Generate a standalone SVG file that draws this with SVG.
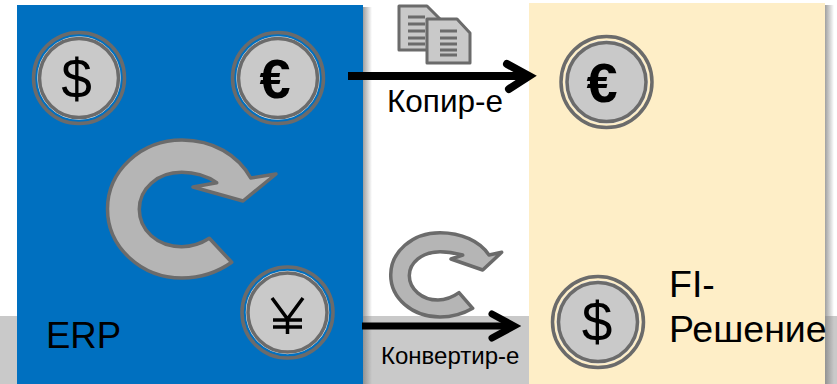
<svg xmlns="http://www.w3.org/2000/svg" width="837" height="384" viewBox="0 0 837 384">
<style>
.o{fill:none;stroke:#6b6b6b;stroke-width:3.500}
.h{fill:none;stroke:#e8e8e8;stroke-width:1.500}
.i{fill:#c9c9c9;stroke:#6b6b6b;stroke-width:3.500}
.a{fill:#b5b5b5;stroke:#6b6b6b;stroke-width:3.500;stroke-linejoin:round}
.s{font-family:"Liberation Sans",Arial,sans-serif;fill:#000}
.l{fill:none;stroke:#000;stroke-linecap:butt}
.c{fill:none;stroke:#000;stroke-linecap:round;stroke-linejoin:miter}
.d{fill:#c9c9c9;stroke:#6b6b6b;stroke-width:3;stroke-linejoin:round}
.dl{stroke:#6b6b6b;stroke-width:3;fill:none}
</style>
<defs>
<linearGradient id="sh"><stop offset="0" stop-color="#808080" stop-opacity=".75"/><stop offset="1" stop-color="#808080" stop-opacity="0"/></linearGradient>
</defs>
<rect width="837" height="384" fill="#fff"/>
<rect id="band" x="0" y="316" width="837" height="68" fill="#c9c9c9"/>
<rect x="363" y="7" width="9" height="377" fill="url(#sh)"/>
<rect x="825" y="5" width="9" height="379" fill="url(#sh)"/>
<g id="erp">
<rect x="17" y="5" width="346" height="379" fill="#0070c0"/>
<text class="s" x="46" y="348" font-size="36.500">ERP</text>
</g>
<g id="fi">
<rect x="529" y="3" width="296" height="381" fill="#feeec7"/>
<text class="s" x="669" y="297" font-size="37.500">FI-</text>
<text class="s" x="669" y="342" font-size="37.500">Решение</text>
</g>
<g id="coin-usd-erp">
<circle cx="79" cy="78" r="45.500" class="o"/><circle cx="79" cy="78" r="41" class="h"/><circle cx="79" cy="78" r="39.500" class="i"/>
<text class="s" x="76.500" y="98" font-size="55" text-anchor="middle">$</text>
</g>
<g id="coin-eur-erp">
<circle cx="278" cy="78" r="45.500" class="o"/><circle cx="278" cy="78" r="41" class="h"/><circle cx="278" cy="78" r="39.500" class="i"/>
<text class="s" x="275" y="98" font-size="56" font-weight="bold" text-anchor="middle">€</text>
</g>
<g id="coin-jpy-erp">
<circle cx="287.500" cy="312.500" r="45.500" class="o"/><circle cx="287.500" cy="312.500" r="41" class="h"/><circle cx="287.500" cy="312.500" r="39.500" class="i"/>
<path d="M272 298L287.500 319L303 298M287.500 319V334M273 320H302M273 327H302" fill="none" stroke="#000" stroke-width="3.500"/>
</g>
<g id="coin-eur-fi">
<circle cx="606.500" cy="82" r="45.500" class="o"/><circle cx="606.500" cy="82" r="41" class="h"/><circle cx="606.500" cy="82" r="39.500" class="i"/>
<text class="s" x="602" y="102" font-size="56" font-weight="bold" text-anchor="middle">€</text>
</g>
<g id="coin-usd-fi">
<circle cx="598" cy="322" r="45.500" class="o"/><circle cx="598" cy="322" r="41" class="h"/><circle cx="598" cy="322" r="39.500" class="i"/>
<text class="s" x="597" y="341" font-size="55" text-anchor="middle">$</text>
</g>
<g id="cycle-large">
<path class="a" d="M231.700 262.300C218 272 200 278 182 278C141 278 107.500 247 107.500 209C107.500 171 141 140 182 140C213 140 238 155 250.700 178L276 174L243 201L193 187L216.700 182.700C207 176 195 172.300 181.700 172.300C157 172.300 139.300 189 139.300 209.300C139.300 230 157 246.700 181.700 246.700C192 246.700 202 243 209.300 238.300Z"/>
</g>
<g id="cycle-small">
<path class="a" d="M472.700 308.300C463 314 452 317 440 317C412 317 390.700 298 390.700 275C390.700 252 412 232.700 440 232.700C461 232.700 480 241 489 255L501.700 252.300L482.700 270L451 259L462.700 255C455 253 448 251.700 440 251.700C422 251.700 409.300 263 409.300 275.500C409.300 289 422 300 438 300C446 300 453 297 459 292.700Z"/>
</g>
<g id="documents">
<path class="d" d="M399 6H427L440 19V50H399Z"/>
<path class="dl" d="M408 17H425M408 24H425M408 31H425M408 38H425M408 44H425"/>
<path class="d" d="M427 19H457L470 33V63H427Z"/>
<path class="dl" d="M440 31H457M440 38H457M440 44H457M440 50H457M440 55H457"/>
</g>
<g id="connectors">
<path class="l" stroke-width="8" d="M348 76H529"/>
<path class="c" stroke-width="8" d="M507 64L529 76L509 89"/>
<path class="l" stroke-width="7" d="M362 326H514"/>
<path class="c" stroke-width="7" d="M492 314L514 326L492 338"/>
</g>
<text class="s" x="387" y="112" font-size="31.500">Копир-е</text>
<text class="s" x="381" y="364" font-size="24">Конвертир-е</text>
</svg>
